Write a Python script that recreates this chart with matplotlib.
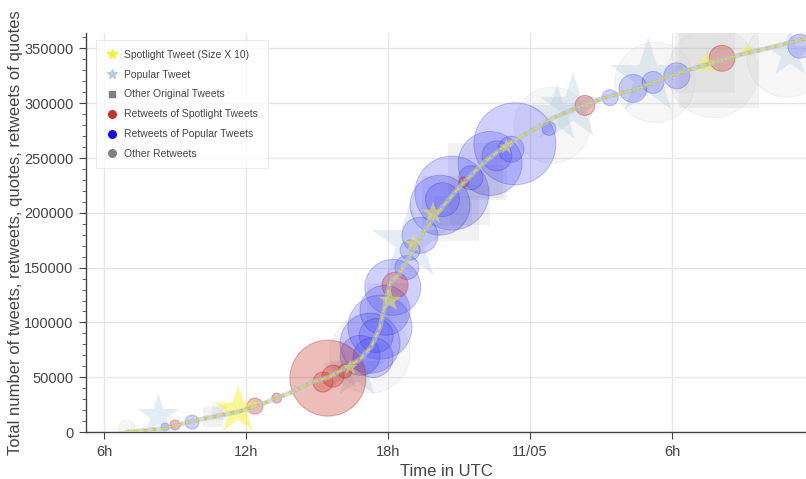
import matplotlib
matplotlib.use("Agg")
import matplotlib.pyplot as plt
from matplotlib.lines import Line2D

plt.rcParams['font.family'] = ['Liberation Sans', 'DejaVu Sans']

# time axis: hours since 00:00 on 10/05 (UTC)
tick_hours = [6, 12, 18, 24, 30]
tick_labels = ['6h', '12h', '18h', '11/05', '6h']

# cumulative count of tweets, retweets, quotes, retweets of quotes
curve_t = [6.93, 8.5, 9.63, 10.5, 11.66, 12.5, 13.3, 14.0, 14.8, 15.5, 16.27, 16.8,
           17.3, 17.66, 18.08, 18.5, 19.06, 19.5, 20.07, 21.0, 22.0, 23.0, 23.87,
           25.0, 26.24, 27.3, 28.35, 29.3, 30.2, 31.1, 32.03, 33.0, 34.0, 35.66]
curve_n = [0, 3000, 9400, 13500, 18500, 24000, 31000, 37000, 45800, 50000, 59500, 66000,
           78000, 95700, 135800, 145000, 166000, 182000, 199600, 223000, 245000, 262000,
           272500, 287000, 298000, 306000, 311700, 320000, 327000, 333000, 339000,
           345000, 350000, 359000]

# retweets of spotlight tweets (red)
red_t = [15.46, 15.25, 15.68, 16.18, 12.38, 9.0, 18.3, 26.32, 32.11, 13.3, 21.2]
red_n = [49200, 45600, 51000, 55600, 23700, 6400, 134000, 298000, 341000, 31000, 228000]
red_size = [76, 20, 22, 14, 16, 10, 26, 20, 26, 10, 10]

# retweets of popular tweets (blue)
blue_t = [20.70, 20.2, 22.31, 23.36, 19.35, 27.38, 28.35, 29.2, 30.2, 35.4, 18.2,
          17.66, 17.24, 17.37, 18.8, 18.93, 9.72, 8.58, 24.8, 16.82, 17.87, 17.5,
          20.3, 22.6, 23.2, 21.5]
blue_n = [218000, 207000, 245000, 263000, 179500, 305000, 313500, 319000, 325000,
          352000, 132000, 95700, 81000, 68000, 150000, 166000, 9100, 4600, 277000,
          70000, 111000, 88000, 212000, 252000, 258000, 232000]
blue_size = [74, 60, 64, 82, 36, 16, 28, 22, 26, 24, 56, 64, 60, 40, 24, 20, 14, 8, 14,
             40, 50, 34, 34, 30, 26, 24]

# other retweets (grey circles)
grey_t = [17.24, 24.93, 29.28, 31.73, 34.85, 6.97]
grey_n = [72000, 280000, 319000, 328000, 342000, 3600]
grey_size = [80, 76, 80, 90, 80, 16]

# other original tweets (squares)
sq_t = [20.49, 21.68, 21.46, 32.0, 31.4, 10.6, 10.9, 17.96, 20.9, 22.3]
sq_n = [211000, 239000, 207000, 332000, 337000, 13700, 18200, 117500, 195000, 228000]
sq_size = [50, 55, 40, 80, 60, 20, 15, 40, 45, 35]

# popular tweets (light blue stars)
pop_t = [8.3, 18.93, 16.69, 25.82, 28.99, 25.14, 34.99, 16.1]
pop_n = [15000, 173000, 56500, 296000, 323500, 290000, 345000, 56500]
pop_size = [44, 80, 60, 70, 80, 60, 50, 44]

# spotlight tweets (yellow stars, size x 10)
spot_t = [11.66, 19.9, 18.08, 16.4, 23.0, 31.48, 33.17, 19.06]
spot_n = [20000, 199600, 120000, 59000, 260000, 336000, 348000, 172000]
spot_size = [50, 24, 24, 16, 16, 24, 16, 20]


def area(sizes):
    # diameter in pixels -> scatter area in points^2 (dpi 100)
    return [(d * 0.72) ** 2 for d in sizes]


fig = plt.figure(figsize=(8.06, 4.79), dpi=100)
ax = fig.add_axes([0.1067, 0.098, 0.8933, 0.833])

ax.scatter(sq_t, sq_n, s=area(sq_size), marker='s', color='#b4b4b4', alpha=0.18,
           linewidths=0, zorder=2)
ax.scatter(grey_t, grey_n, s=area(grey_size), marker='o', facecolor='#d2d2d2',
           alpha=0.2, edgecolor='#b0b0b0', linewidths=0.5, zorder=2)
ax.scatter(pop_t, pop_n, s=area(pop_size), marker='*', color='#b6cde0', alpha=0.35,
           linewidths=0, zorder=3)
ax.scatter(blue_t, blue_n, s=area(blue_size), marker='o', facecolor='#4646f5',
           alpha=0.25, edgecolor='#2020d0', linewidths=0.7, zorder=4)
ax.scatter(red_t, red_n, s=area(red_size), marker='o', facecolor='#c83228',
           alpha=0.32, edgecolor='#b02020', linewidths=0.8, zorder=5)
ax.scatter(spot_t, spot_n, s=area(spot_size), marker='*', color='#f5f03c', alpha=0.55,
           linewidths=0, zorder=6)

# the dense stream of small tweets along the cumulative curve
ax.plot(curve_t, curve_n, color='#a8c8e8', lw=3.5, alpha=0.6, zorder=6,
        solid_capstyle='round')
ax.plot(curve_t, curve_n, color='#a03070', lw=1.6, alpha=0.8, zorder=7,
        dashes=(1.5, 2.5))
ax.plot(curve_t, curve_n, color='#f0e030', lw=1.6, alpha=0.9, zorder=7,
        dashes=(1.5, 2.5), dash_capstyle='round')

ax.set_xlim(5.24, 35.66)
ax.set_ylim(0, 364000)
ax.set_xticks(tick_hours)
ax.set_xticklabels(tick_labels)
ax.set_yticks(range(0, 350001, 50000))
ax.set_yticks(range(0, 364000, 10000), minor=True)

ax.grid(True, which='major', color='#e6e6e6', lw=1)
ax.set_axisbelow(True)
for side in ['top', 'right']:
    ax.spines[side].set_visible(False)
for side in ['left', 'bottom']:
    ax.spines[side].set_color('#444444')
    ax.spines[side].set_linewidth(1)
ax.tick_params(axis='both', which='major', length=5, color='#444444',
               labelsize=10.5, labelcolor='#444444', pad=4)
ax.tick_params(axis='y', which='minor', length=3, color='#444444')

ax.set_xlabel('Time in UTC', fontsize=12, color='#444444', labelpad=4)
ax.set_ylabel('Total number of tweets, retweets, quotes, retweets of quotes',
              fontsize=12, color='#444444', labelpad=1)

handles = [
    Line2D([], [], ls='', marker='*', color='#f5f03c', markersize=7),
    Line2D([], [], ls='', marker='*', color='#b6cde0', markersize=7),
    Line2D([], [], ls='', marker='s', color='#808080', markersize=5),
    Line2D([], [], ls='', marker='o', color='#c83228', markersize=5.5),
    Line2D([], [], ls='', marker='o', color='#1010f0', markersize=5.5),
    Line2D([], [], ls='', marker='o', color='#808080', markersize=5.5),
]
labels = ['Spotlight Tweet (Size X 10)', 'Popular Tweet', 'Other Original Tweets',
          'Retweets of Spotlight Tweets', 'Retweets of Popular Tweets', 'Other Retweets']
leg = ax.legend(handles, labels, loc='upper left', bbox_to_anchor=(0.007, 0.995),
                fontsize=7.5, frameon=True, fancybox=False, labelspacing=0.95,
                handletextpad=0.6, borderpad=0.9, handlelength=1.2)
leg.get_frame().set_edgecolor('#e6e6e6')
leg.get_frame().set_linewidth(0.8)
for t in leg.get_texts():
    t.set_color('#444444')
leg.set_zorder(10)

fig.savefig('out.png', dpi=100)
